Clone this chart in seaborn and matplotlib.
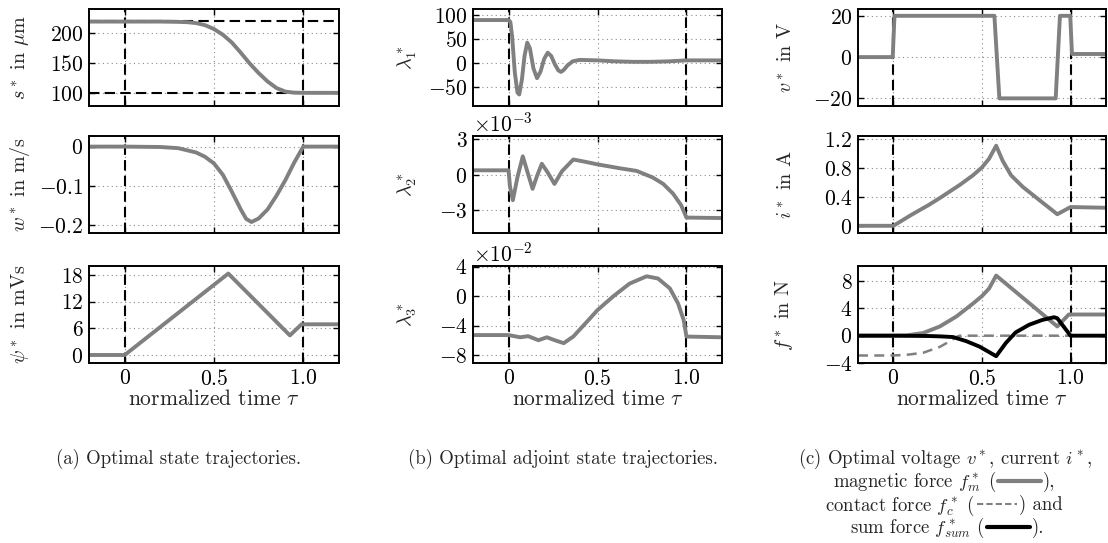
import matplotlib
matplotlib.use("Agg")
import matplotlib.pyplot as plt
import numpy as np
import seaborn as sns
from matplotlib.lines import Line2D
from matplotlib.ticker import FuncFormatter, ScalarFormatter

# --- data (normalized time tau) ---
tau_bounds = [0.0, 1.0]
s_bounds = [220, 100]

tau_s = [-0.2, 0.0, 0.1, 0.2, 0.3, 0.35, 0.4, 0.45, 0.5, 0.55, 0.6, 0.65, 0.7,
         0.75, 0.8, 0.85, 0.9, 0.95, 1.0, 1.2]
s_pos = [219, 219, 219, 219, 218.5, 218, 216.5, 213, 206.5, 197, 184, 167, 149,
         133, 119, 108, 102, 100.3, 100, 100]

tau_w = [-0.2, 0.0, 0.2, 0.3, 0.4, 0.45, 0.5, 0.55, 0.6, 0.65, 0.68, 0.71,
         0.75, 0.8, 0.85, 0.9, 0.95, 1.0, 1.2]
w_vel = [0, 0, -0.001, -0.004, -0.015, -0.026, -0.043, -0.072, -0.115, -0.160,
         -0.184, -0.192, -0.183, -0.160, -0.125, -0.085, -0.040, 0, 0]

tau_psi = [-0.2, 0.0, 0.58, 0.925, 0.99, 1.2]
psi = [0, 0, 18.3, 4.4, 6.9, 6.9]

tau_l1 = [-0.2, 0.0, 0.01, 0.02, 0.035, 0.05, 0.06, 0.075, 0.09, 0.105, 0.12,
          0.14, 0.16, 0.18, 0.2, 0.22, 0.24, 0.26, 0.28, 0.295, 0.31, 0.33,
          0.36, 0.4, 0.5, 0.6, 0.7, 0.8, 0.9, 1.0, 1.2]
lam1 = [89, 89, 85, 55, -20, -62, -66, -35, 15, 42, 30, -12, -32, -18, 8, 21,
        14, -3, -16, -19, -15, -6, 3, 6, 5, 3, 2, 2, 3, 5, 5]

tau_l2 = [-0.2, 0.0, 0.008, 0.024, 0.05, 0.08, 0.105, 0.135, 0.16, 0.187, 0.22,
          0.258, 0.3, 0.364, 0.43, 0.5, 0.626, 0.72, 0.81, 0.87, 0.925, 0.97,
          1.0, 1.2]
lam2 = [0.38, 0.38, -1.0, -2.14, -0.2, 1.56, 0.3, -1.18, -0.1, 0.93, 0.2,
        -0.77, 0.3, 1.29, 1.1, 0.88, 0.55, 0.33, -0.22, -0.77, -1.59, -2.55,
        -3.6, -3.64]  # x 1e-3
lam2_scale = 1e-3

tau_l3 = [-0.2, 0.0, 0.065, 0.11, 0.168, 0.215, 0.26, 0.31, 0.364, 0.44, 0.5,
          0.59, 0.68, 0.776, 0.84, 0.907, 0.953, 0.985, 1.0, 1.2]
lam3 = [-5.3, -5.3, -5.6, -5.45, -6.0, -5.6, -6.0, -6.4, -5.5, -3.5, -1.9, 0.0,
        1.7, 2.7, 2.4, 1.05, -1.0, -3.3, -5.5, -5.6]  # x 1e-2
lam3_scale = 1e-2

tau_v = [-0.2, -0.004, 0.006, 0.57, 0.598, 0.916, 0.94, 0.998, 1.008, 1.2]
volt = [0, 0, 20, 20, -20, -20, 20, 20, 1.5, 1.5]

tau_i = [-0.2, 0.0, 0.1, 0.2, 0.262, 0.374, 0.449, 0.5, 0.54, 0.58, 0.617,
         0.664, 0.73, 0.822, 0.925, 1.0, 1.2]
curr = [0, 0, 0.15, 0.29, 0.385, 0.566, 0.70, 0.81, 0.93, 1.11, 0.90, 0.70,
        0.54, 0.36, 0.16, 0.26, 0.25]

tau_fm = [-0.2, 0.0, 0.075, 0.168, 0.262, 0.355, 0.449, 0.5, 0.54, 0.58, 0.925,
          0.99, 1.2]
f_mag = [0, 0, 0.05, 0.39, 1.35, 2.8, 4.7, 5.8, 6.9, 8.8, 1.35, 3.1, 3.1]

tau_fc = [-0.2, 0.0, 0.075, 0.168, 0.262, 0.318, 0.355, 0.374, 1.2]
f_con = [-2.9, -2.9, -2.8, -2.5, -1.64, -0.82, -0.19, 0, 0]

tau_fs = [-0.2, 0.0, 0.2, 0.262, 0.336, 0.411, 0.486, 0.58, 0.635, 0.69, 0.766,
          0.84, 0.907, 0.925, 1.0, 1.2]
f_sum = [0, 0, -0.05, -0.1, -0.2, -0.8, -1.6, -3.0, -1.06, 0.48, 1.6, 2.3, 2.7,
         2.55, 0, 0]

xticks = [0, 0.5, 1.0]
xticklabels = ["$0$", "$0.5$", "$1.0$"]

ylabels = [[r"$s^*$ in $\mu$m", r"$w^*$ in m/s", r"$\psi^*$ in mVs"],
           [r"$\lambda_1^*$", r"$\lambda_2^*$", r"$\lambda_3^*$"],
           [r"$v^*$ in V", r"$i^*$ in A", r"$f^*$ in N"]]
yticks = [[[100, 150, 200], [-0.2, -0.1, 0], [0, 6, 12, 18]],
          [[-50, 0, 50, 100], [-3e-3, 0, 3e-3], [-8e-2, -4e-2, 0, 4e-2]],
          [[-20, 0, 20], [0, 0.4, 0.8, 1.2], [-4, 0, 4, 8]]]
ylims = [[(78, 240), (-0.22, 0.027), (-1.8, 20)],
         [(-90, 112), (-4.9e-3, 3.27e-3), (-9.1e-2, 4.1e-2)],
         [(-23.7, 23.3), (-0.1, 1.245), (-4, 10.2)]]

captions = ["(a) Optimal state trajectories.",
            "(b) Optimal adjoint state trajectories."]

# --- style ---
sns.set_style("ticks")
plt.rcParams.update({
    "font.family": "serif",
    "font.serif": ["cmr10"],
    "mathtext.fontset": "cm",
    "axes.formatter.use_mathtext": True,
    "axes.edgecolor": "black",
    "axes.linewidth": 1.4,
    "xtick.color": "black",
    "ytick.color": "black",
})

gray = "#808080"
LW = 2.8
W, H = 1108, 543
fig = plt.figure(figsize=(W / 100, H / 100), dpi=100)

col_left = [89, 473, 858]
col_w = [250, 249, 248]
row_top = [9, 136, 266]
row_h = 97

axes = [[None] * 3 for _ in range(3)]
for c in range(3):
    for r in range(3):
        ax = fig.add_axes([col_left[c] / W, 1 - (row_top[r] + row_h) / H,
                           col_w[c] / W, row_h / H])
        axes[c][r] = ax


def line(ax, x, y, **kw):
    sns.lineplot(x=x, y=y, ax=ax, estimator=None, sort=False, legend=False, **kw)


# column 1
line(axes[0][0], tau_s, s_pos, color=gray, lw=LW)
line(axes[0][1], tau_w, w_vel, color=gray, lw=LW)
line(axes[0][2], tau_psi, psi, color=gray, lw=LW)
for yb in s_bounds:
    axes[0][0].axhline(yb, color="black", lw=1.5, dashes=(5, 2.5), zorder=1)

# column 2
line(axes[1][0], tau_l1, lam1, color=gray, lw=LW)
line(axes[1][1], tau_l2, np.array(lam2) * lam2_scale, color=gray, lw=LW)
line(axes[1][2], tau_l3, np.array(lam3) * lam3_scale, color=gray, lw=LW)

# column 3
line(axes[2][0], tau_v, volt, color=gray, lw=LW)
line(axes[2][1], tau_i, curr, color=gray, lw=LW)
line(axes[2][2], tau_fc, f_con, color=gray, lw=1.8)
axes[2][2].lines[-1].set_dashes((4, 2.5))
line(axes[2][2], tau_fm, f_mag, color=gray, lw=LW)
line(axes[2][2], tau_fs, f_sum, color="black", lw=LW)

plain = FuncFormatter(lambda v, p: f"${v:g}$")
label_x = [-0.228, -0.215, -0.25]
for c in range(3):
    for r in range(3):
        ax = axes[c][r]
        for xb in tau_bounds:
            ax.axvline(xb, color="black", lw=1.5, dashes=(5, 2.5), zorder=1)
        ax.set_xlim(-0.2, 1.2)
        ax.set_xticks(xticks)
        ax.set_ylim(*ylims[c][r])
        ax.set_yticks(yticks[c][r])
        ax.grid(True, color="#8c8c8c", lw=0.8, dashes=(1, 3))
        ax.tick_params(direction="in", length=4, width=1, top=True, right=True,
                       labelsize=15.5, pad=4)
        if c == 1 and r > 0:
            fmt = ScalarFormatter(useMathText=True)
            fmt.set_powerlimits((0, 0))
            ax.yaxis.set_major_formatter(fmt)
            ax.yaxis.get_offset_text().set_fontsize(15.5)
        else:
            ax.yaxis.set_major_formatter(plain)
        if r == 2:
            ax.set_xticklabels(xticklabels)
            ax.set_xlabel(r"normalized time $\tau$", fontsize=15.5, labelpad=0)
        else:
            ax.set_xticklabels([])
        ax.set_ylabel(ylabels[c][r], fontsize=14.5)
        ax.yaxis.set_label_coords(label_x[c], 0.5)
        for sp in ax.spines.values():
            sp.set_visible(True)
            sp.set_linewidth(1.4)

# captions
CAP = 13.5
fig.text(178 / W, 1 - 459 / H, captions[0], ha="center", va="center", fontsize=CAP)
fig.text(563 / W, 1 - 459 / H, captions[1], ha="center", va="center", fontsize=CAP)
fig.text(945 / W, 1 - 459 / H, r"(c) Optimal voltage $v^*$, current $i^*$,",
         ha="center", va="center", fontsize=CAP)

cap_rows = [
    (r"magnetic force $f_m^*$ (", "),", 482, 996, 1042, dict(color=gray, lw=3)),
    (r"contact force $f_c^*$ (", ") and", 505, 975, 1018,
     dict(color=gray, lw=1.5, dashes=(3, 1.5))),
    (r"sum force $f_{sum}^*$ (", ").", 528, 985, 1031, dict(color="black", lw=3)),
]
for left_txt, right_txt, yc, x0, x1, style in cap_rows:
    fig.text(x0 / W, 1 - yc / H, left_txt, ha="right", va="center", fontsize=CAP)
    fig.text((x1 + 1) / W, 1 - yc / H, right_txt, ha="left", va="center",
             fontsize=CAP)
    fig.add_artist(Line2D([(x0 + 2) / W, (x1 - 1) / W],
                          [1 - (yc - 1) / H, 1 - (yc - 1) / H],
                          transform=fig.transFigure, **style))

fig.savefig("out.png", dpi=100)
